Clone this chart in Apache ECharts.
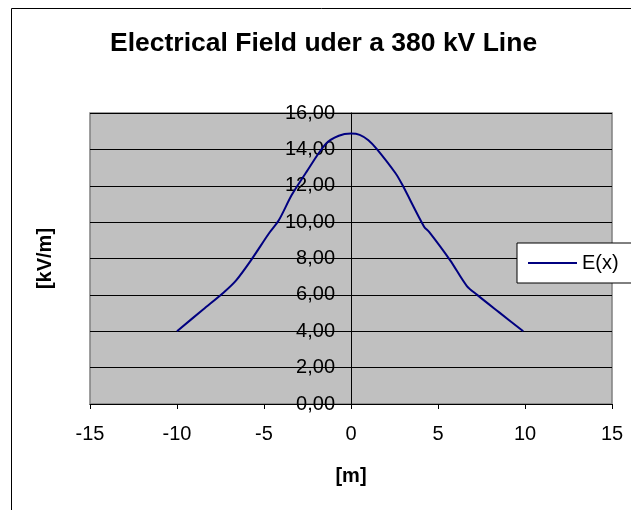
<!DOCTYPE html>
<html>
<head>
<meta charset="utf-8">
<script src="https://cdn.jsdelivr.net/npm/echarts@6/dist/echarts.min.js"></script>
<style>
  html, body { margin: 0; padding: 0; background: #fff; }
  #chart { width: 631px; height: 510px; }
</style>
</head>
<body>
<div id="chart"></div>
<script>
// distance from line axis [m]
const distances = [-10, -8.5, -7.3, -6.6, -5.75, -4.7, -4.15, -3.4, -2.6, -1.45, -0.7, 0,
  0.5, 1.0, 1.5, 2.55, 2.95, 4.2, 4.5, 5.7, 6.65, 7.25, 8.5, 9.9];
// field strength [kV/m]
const fieldValues = [4.0, 5.2, 6.15, 6.8, 7.9, 9.4, 10.1, 11.5, 12.7, 14.3, 14.75, 14.87,
  14.8, 14.5, 14.0, 12.7, 12.05, 9.75, 9.45, 7.9, 6.5, 6.0, 5.05, 4.0];

const fontFam = '"Liberation Sans", Arial, sans-serif';

const chart = echarts.init(document.getElementById('chart'));

// plot is 522px wide, x=0 sits in the middle -> pull y axis in by half
const yAxisShift = -261;

const option = {
  animation: false,
  textStyle: { fontFamily: fontFam },
  graphic: [
    {
      type: 'rect',
      shape: { x: 11.5, y: 8.5, width: 640, height: 520 },
      style: { fill: 'none', stroke: '#000', lineWidth: 1 },
      silent: true
    }
  ],
  title: {
    text: 'Electrical Field uder a 380 kV Line',
    left: 105,
    top: 25,
    textStyle: { fontSize: 26.5, fontWeight: 'bold', color: '#000', fontFamily: fontFam }
  },
  legend: {
    orient: 'vertical',
    left: 517,
    top: 243,
    padding: [10, 20, 10, 11],
    backgroundColor: '#fff',
    borderColor: '#000',
    borderWidth: 1,
    icon: 'rect',
    itemWidth: 49,
    itemHeight: 2,
    textStyle: { fontSize: 20, color: '#000', fontFamily: fontFam },
    data: ['E(x)']
  },
  grid: {
    left: 90,
    top: 113,
    right: 19,
    bottom: 106,
    show: true,
    backgroundColor: '#c0c0c0',
    borderColor: '#808080',
    borderWidth: 1.5
  },
  xAxis: {
    type: 'value',
    min: -15,
    max: 15,
    interval: 5,
    name: '[m]',
    nameLocation: 'middle',
    nameGap: 62,
    nameTextStyle: { fontSize: 20, fontWeight: 'bold', color: '#000' },
    axisLine: { lineStyle: { color: '#000', width: 1 } },
    axisTick: { length: 5, lineStyle: { color: '#000' } },
    axisLabel: { fontSize: 20, color: '#000', margin: 20 },
    splitLine: { show: false }
  },
  yAxis: {
    type: 'value',
    min: 0,
    max: 16,
    interval: 2,
    offset: yAxisShift,
    name: '[kV/m]',
    nameLocation: 'middle',
    nameGap: 296,
    nameTextStyle: { fontSize: 20, fontWeight: 'bold', color: '#000' },
    axisLine: { show: true, onZero: false, lineStyle: { color: '#000', width: 1 } },
    axisTick: { show: true, length: 5, lineStyle: { color: '#000' } },
    axisLabel: {
      fontSize: 20,
      color: '#000',
      margin: 16,
      formatter: v => v.toFixed(2).replace('.', ',')
    },
    splitLine: { show: true, lineStyle: { color: '#000', width: 1 } }
  },
  series: [
    {
      name: 'E(x)',
      type: 'line',
      data: distances.map((d, i) => [d, fieldValues[i]]),
      smooth: 0.3,
      symbol: 'none',
      lineStyle: { color: '#000080', width: 2 },
      itemStyle: { color: '#000080' }
    }
  ]
};

chart.setOption(option);
</script>
</body>
</html>
